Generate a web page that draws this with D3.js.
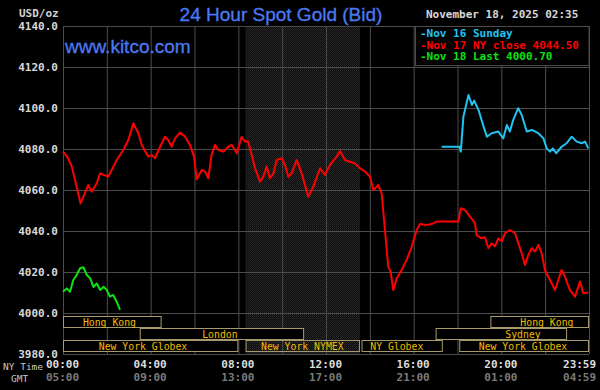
<!DOCTYPE html>
<html>
<head>
<meta charset="utf-8">
<script src="https://cdn.jsdelivr.net/npm/d3@7"></script>
<style>
  body { margin: 0; background: #000; }
</style>
</head>
<body>
<div id="chart"></div>
<script>
// hours since 00:00 NY time, price in USD/oz
var redHours = [0, 0.23, 0.40, 0.55, 0.70, 0.80, 0.93, 1.15, 1.31, 1.54, 1.69, 2.07, 2.45, 2.75, 2.98, 3.21, 3.44, 3.59, 3.89, 4.05,
  4.20, 4.43, 4.65, 4.80, 4.96, 5.11, 5.34, 5.57, 5.79, 5.98, 6.10, 6.33, 6.48, 6.63, 6.78, 6.94, 7.09, 7.31, 7.54, 7.70,
  7.93, 8.15, 8.30, 8.45, 8.61, 8.76, 8.99, 9.14, 9.29, 9.44, 9.60, 9.75, 9.98, 10.13, 10.28, 10.43, 10.66, 10.89, 11.19, 11.42,
  11.73, 11.95, 12.18, 12.49, 12.64, 12.87, 13.09, 13.32, 13.55, 13.78, 14.01, 14.16, 14.39, 14.54, 14.69, 14.84, 14.95, 15.07, 15.23, 15.45,
  15.68, 15.91, 16.14, 16.29, 16.59, 16.82, 17.05, 18.04, 18.15, 18.34, 18.57, 18.80, 18.87, 19.10, 19.25, 19.41, 19.56, 19.71, 19.86, 20.02,
  20.17, 20.39, 20.62, 20.78, 20.93, 21.08, 21.23, 21.39, 21.54, 21.69, 21.84, 21.99, 22.22, 22.45, 22.60, 22.75, 22.90, 23.13, 23.36, 23.59,
  23.74, 23.97];
var redPrices = [4078.7, 4075.6, 4071.4, 4064.9, 4058.0, 4053.5, 4056.7, 4062.4, 4059.2, 4063.3, 4068.1, 4066.5, 4074.6, 4079.5, 4084.4, 4092.5, 4087.7, 4082.0, 4076.3, 4077.1,
  4075.5, 4081.1, 4086.0, 4084.4, 4081.1, 4085.2, 4088.0, 4086.0, 4082.0, 4076.3, 4065.2, 4069.8, 4069.0, 4065.7, 4077.1, 4082.0, 4079.5, 4078.7, 4081.1, 4082.0,
  4077.9, 4086.0, 4083.6, 4083.6, 4077.1, 4070.6, 4064.1, 4066.5, 4071.4, 4065.7, 4068.1, 4074.6, 4075.5, 4072.2, 4066.5, 4068.1, 4074.6, 4068.1, 4056.7, 4061.6,
  4070.6, 4067.3, 4072.2, 4076.3, 4079.0, 4074.6, 4073.8, 4073.0, 4070.6, 4069.0, 4066.5, 4060.0, 4062.4, 4058.4, 4040.5, 4022.6, 4020.2, 4011.2, 4016.9, 4021.0,
  4025.9, 4032.3, 4040.5, 4043.4, 4042.9, 4043.4, 4044.6, 4044.6, 4051.1, 4050.3, 4047.0, 4043.8, 4038.0, 4036.4, 4037.0, 4031.6, 4034.0, 4032.5, 4036.4, 4035.0,
  4038.9, 4040.5, 4038.9, 4034.0, 4029.1, 4023.4, 4028.3, 4031.6, 4030.0, 4033.2, 4029.1, 4021.0, 4016.1, 4011.2, 4016.1, 4021.0, 4017.8, 4011.2, 4008.0, 4015.3,
  4009.6, 4010.0];

var cyanHours = [17.28, 18.10, 18.15, 18.27, 18.50, 18.66, 18.76, 18.96, 19.19, 19.34, 19.56, 19.86, 20.09, 20.25, 20.39, 20.54, 20.77, 20.93,
  21.16, 21.39, 21.69, 21.92, 22.07, 22.22, 22.35, 22.50, 22.75, 22.98, 23.21, 23.44, 23.67, 23.82, 23.97];
var cyanPrices = [4081.1, 4081.1, 4078.7, 4095.8, 4106.3, 4101.5, 4103.6, 4099.0, 4090.9, 4086.0, 4087.7, 4088.5, 4085.2, 4091.7, 4088.5, 4094.1, 4099.9, 4096.6,
  4088.5, 4089.3, 4087.7, 4085.2, 4080.3, 4078.7, 4080.3, 4077.9, 4081.1, 4082.8, 4086.0, 4083.6, 4082.8, 4083.6, 4080.3];

var greenHours = [0, 0.17, 0.32, 0.47, 0.62, 0.78, 0.93, 1.09, 1.24, 1.39, 1.54, 1.70, 1.85, 2.00, 2.14, 2.29, 2.45, 2.60];
var greenPrices = [4010.4, 4012.0, 4010.4, 4016.1, 4018.5, 4021.8, 4022.3, 4018.5, 4016.9, 4012.7, 4014.4, 4011.2, 4012.8, 4011.2, 4008.0, 4008.8, 4005.5, 4001.5];

var priceTicks = [3980, 4000, 4020, 4040, 4060, 4080, 4100, 4120, 4140];
var hourTicks = [0, 4, 8, 12, 16, 20, 23.983];
var nyLabels = ["00:00", "04:00", "08:00", "12:00", "16:00", "20:00", "23:59"];
var gmtLabels = ["05:00", "09:00", "13:00", "17:00", "21:00", "01:00", "04:59"];

var legendNames = ["Nov 16 Sunday", "Nov 17 NY close 4044.50", "Nov 18 Last 4000.70"];

var sessionNames = ["Hong Kong", "Hong Kong", "London", "Sydney", "New York Globex", "New York NYMEX", "NY Globex", "New York Globex"];
var sessionRow = [0, 0, 1, 1, 2, 2, 2, 2];
var sessionStart = [0, 19.5, 3.5, 17.0, 0, 8.33, 13.62, 18.08];
var sessionEnd = [4.5, 24, 11.0, 23.0, 8.0, 13.55, 17.33, 24];
var sessionLabelAt = [2.12, 22.08, 7.16, 20.99, 3.65, 10.92, 15.23, 20.99];
var pitStart = 8.33, pitEnd = 13.55;

var mono = "DejaVu Sans Mono, monospace";
var sans = "Liberation Sans, Arial, sans-serif";
var pLeft = 63, pRight = 589, pTop = 26, pBottom = 354;

var svg = d3.select("#chart").append("svg")
  .attr("width", 600)
  .attr("height", 390)
  .attr("font-family", mono)
  .style("display", "block")
  .style("background", "#000");

var x = d3.scaleLinear().domain([0, 24]).range([pLeft, pRight]);
var y = d3.scaleLinear().domain([3980, 4140]).range([pBottom, pTop]);

// dotted pattern for the NYMEX pit hours
var pat = svg.append("defs").append("pattern")
  .attr("id", "dots")
  .attr("width", 2).attr("height", 2)
  .attr("patternUnits", "userSpaceOnUse");
pat.append("rect").attr("width", 2).attr("height", 2).attr("fill", "#0c0c0c");
pat.append("rect").attr("width", 1).attr("height", 1).attr("fill", "#2c2c2c");
pat.append("rect").attr("x", 1).attr("y", 1).attr("width", 1).attr("height", 1).attr("fill", "#222");

svg.append("rect")
  .attr("x", x(pitStart)).attr("y", pTop)
  .attr("width", x(pitEnd) - x(pitStart))
  .attr("height", pBottom - pTop)
  .attr("fill", "url(#dots)");

// grid
var gridColor = "#4c4c4c";
svg.append("g")
  .attr("transform", "translate(" + pLeft + ",0)")
  .call(d3.axisLeft(y).tickValues(priceTicks).tickSize(-(pRight - pLeft)).tickFormat(""))
  .call(function(g) { g.select(".domain").remove(); })
  .selectAll("line").attr("stroke", gridColor);
svg.append("g")
  .attr("transform", "translate(0," + pBottom + ")")
  .call(d3.axisBottom(x).tickValues(d3.range(0, 25, 2)).tickSize(-(pBottom - pTop)).tickFormat(""))
  .call(function(g) { g.select(".domain").remove(); })
  .selectAll("line").attr("stroke", gridColor);

// price labels
svg.append("g")
  .attr("transform", "translate(" + (pLeft - 5) + ",0)")
  .call(d3.axisLeft(y).tickValues(priceTicks).tickSize(0).tickPadding(0).tickFormat(d3.format(".1f")))
  .call(function(g) { g.select(".domain").remove(); })
  .selectAll("text")
    .attr("fill", "#d8d8d8")
    .attr("font-size", "11px")
    .attr("font-weight", "bold")
    .attr("font-family", mono);

// time labels
function timeAxis(labels, color, offset) {
  var g = svg.append("g")
    .attr("transform", "translate(0," + offset + ")")
    .call(d3.axisBottom(x).tickValues(hourTicks).tickSize(0).tickPadding(0)
      .tickFormat(function(d, i) { return labels[i]; }));
  g.select(".domain").remove();
  g.selectAll("text")
    .attr("fill", color)
    .attr("font-size", "11px")
    .attr("font-weight", "bold")
    .attr("font-family", mono)
    .attr("text-anchor", function(d, i) { return i == labels.length - 1 ? "end" : "middle"; })
    .attr("dx", function(d, i) { return i == labels.length - 1 ? 7 : -1; });
}
timeAxis(nyLabels, "#dcdcdc", 360);
timeAxis(gmtLabels, "#7a7a7a", 373);

svg.append("text").attr("x", 3).attr("y", 370).attr("fill", "#c8c8c8")
  .attr("font-size", "9.5px").text("NY Time");
svg.append("text").attr("x", 11).attr("y", 382).attr("fill", "#c8c8c8")
  .attr("font-size", "9.5px").text("GMT");
svg.append("text").attr("x", 19).attr("y", 17).attr("fill", "#d0d0d0")
  .attr("font-size", "11px").attr("font-weight", "bold").text("USD/oz");

// trading sessions
var rowH = 12, rowTop = y(4000) + 3;
var sessions = sessionNames.map(function(n, i) {
  return {name: n, row: sessionRow[i], start: sessionStart[i], end: sessionEnd[i], at: sessionLabelAt[i]};
});
var sg = svg.selectAll(".session").data(sessions).enter().append("g");
sg.append("rect")
  .attr("x", function(d) { return x(d.start) + 0.5; })
  .attr("y", function(d) { return rowTop + d.row * rowH + 0.5; })
  .attr("width", function(d) { return x(Math.min(d.end, 24)) - x(d.start) - 1; })
  .attr("height", rowH - 1)
  .attr("fill", function(d) { return d.name == "New York NYMEX" ? "none" : "#000"; })
  .attr("stroke", "#a69a6c")
  .attr("stroke-width", 1);
sg.append("text")
  .attr("x", function(d) { return x(d.at); })
  .attr("y", function(d) { return rowTop + d.row * rowH + 9.5; })
  .attr("text-anchor", "middle")
  .attr("fill", "#f0bc00")
  .attr("font-size", "9.8px")
  .text(function(d) { return d.name; });

// series
function drawSeries(hours, prices, color) {
  var pts = hours.map(function(h, i) { return [h, prices[i]]; });
  svg.append("path")
    .datum(pts)
    .attr("fill", "none")
    .attr("stroke", color)
    .attr("stroke-width", 2)
    .attr("stroke-linejoin", "round")
    .attr("d", d3.line().x(function(d) { return x(d[0]); }).y(function(d) { return y(d[1]); }));
}
drawSeries(redHours, redPrices, "#ff0000");
drawSeries(cyanHours, cyanPrices, "#20c4f0");
drawSeries(greenHours, greenPrices, "#10e010");

// titles
svg.append("text")
  .attr("x", 281).attr("y", 21)
  .attr("text-anchor", "middle")
  .attr("fill", "#4a78f0")
  .attr("stroke", "#4a78f0")
  .attr("stroke-width", 0.35)
  .attr("font-family", sans)
  .attr("font-size", "19px")
  .text("24 Hour Spot Gold (Bid)");
svg.append("text")
  .attr("x", 65).attr("y", 53)
  .attr("fill", "#4a78f0")
  .attr("stroke", "#4a78f0")
  .attr("stroke-width", 0.35)
  .attr("font-family", sans)
  .attr("font-size", "19px")
  .text("www.kitco.com");
svg.append("text")
  .attr("x", 426).attr("y", 18)
  .attr("fill", "#d8d8d8")
  .attr("font-size", "11px")
  .attr("font-weight", "bold")
  .text("November 18, 2025 02:35");

// legend
var legendColors = ["#20c4f0", "#ff0000", "#10e010"];
svg.append("rect")
  .attr("x", 415.5).attr("y", pTop + 0.5)
  .attr("width", pRight - 415.5).attr("height", 39)
  .attr("fill", "#000").attr("stroke", gridColor);
svg.selectAll(".leg").data(legendNames).enter().append("text")
  .attr("x", 420)
  .attr("y", function(d, i) { return 37 + i * 11.6; })
  .attr("fill", function(d, i) { return legendColors[i]; })
  .attr("font-size", "11px")
  .attr("font-weight", "bold")
  .text(function(d) { return "-" + d; });
</script>
</body>
</html>
